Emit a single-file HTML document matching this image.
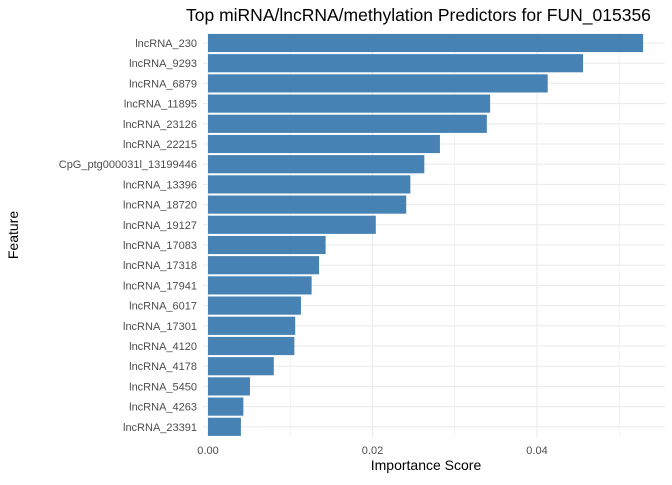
<!DOCTYPE html>
<html><head><meta charset="utf-8"><style>
body{margin:0;background:#fff;font-family:"Liberation Sans",sans-serif}
</style></head><body>
<svg id="chart" width="672" height="480" xmlns="http://www.w3.org/2000/svg" font-family="Liberation Sans, sans-serif">
<text x="186" y="21" font-size="17.5" fill="#000">Top miRNA/lncRNA/methylation Predictors for FUN_015356</text>
<g id="grid"></g><g id="bars"></g><g id="ylabels"></g><g id="xlabels"></g>
<text x="426" y="470" font-size="14" text-anchor="middle">Importance Score</text>
<text transform="translate(18,235) rotate(-90)" font-size="14" text-anchor="middle">Feature</text>
</svg>
<script>
const features=["lncRNA_230","lncRNA_9293","lncRNA_6879","lncRNA_11895","lncRNA_23126","lncRNA_22215","CpG_ptg000031l_13199446","lncRNA_13396","lncRNA_18720","lncRNA_19127","lncRNA_17083","lncRNA_17318","lncRNA_17941","lncRNA_6017","lncRNA_17301","lncRNA_4120","lncRNA_4178","lncRNA_5450","lncRNA_4263","lncRNA_23391"];
const scores=[0.0529,0.0456,0.0413,0.0343,0.0339,0.0282,0.0263,0.0246,0.0241,0.0204,0.0143,0.0135,0.0126,0.0113,0.0106,0.0105,0.0080,0.0051,0.0043,0.0040];
const xTicks=[0,0.02,0.04];
const xTickLabels=["0.00","0.02","0.04"];
const minorTicks=[0.01,0.03,0.05];
const NS="http://www.w3.org/2000/svg";
const xs=v=>208+v*8225;
const step=20.2, y0=43;
const ys=i=>y0+i*step;
const pTop=33,pBottom=437,pLeft=203,pRight=665;
const grid=document.getElementById('grid'),bars=document.getElementById('bars'),yl=document.getElementById('ylabels'),xl=document.getElementById('xlabels');
function mk(tag,a,p){const e=document.createElementNS(NS,tag);for(const k in a)e.setAttribute(k,a[k]);p.appendChild(e);return e;}
minorTicks.forEach(v=>{const l=mk('line',{x1:xs(v),x2:xs(v),y1:pTop,y2:pBottom,stroke:'#ebebeb','stroke-width':0.6},grid);

});
xTicks.forEach((v,i)=>{const l=mk('line',{x1:xs(v),x2:xs(v),y1:pTop,y2:pBottom,stroke:'#ebebeb','stroke-width':1.1},grid);


const t=mk('text',{x:xs(v),y:454,'font-size':11,fill:'#4d4d4d','text-anchor':'middle'},xl);t.textContent=xTickLabels[i];

});
features.forEach((f,i)=>{const l=mk('line',{x1:pLeft,x2:pRight,y1:ys(i),y2:ys(i),stroke:'#ebebeb','stroke-width':1.1},grid);


const r=mk('rect',{x:xs(0),y:ys(i)-step*0.45,width:xs(scores[i])-xs(0),height:step*0.9,fill:'#4682b4'},bars);


const t=mk('text',{x:197,y:ys(i)+4,'font-size':11,fill:'#4d4d4d','text-anchor':'end'},yl);t.textContent=f;

});
</script>
</body></html>
